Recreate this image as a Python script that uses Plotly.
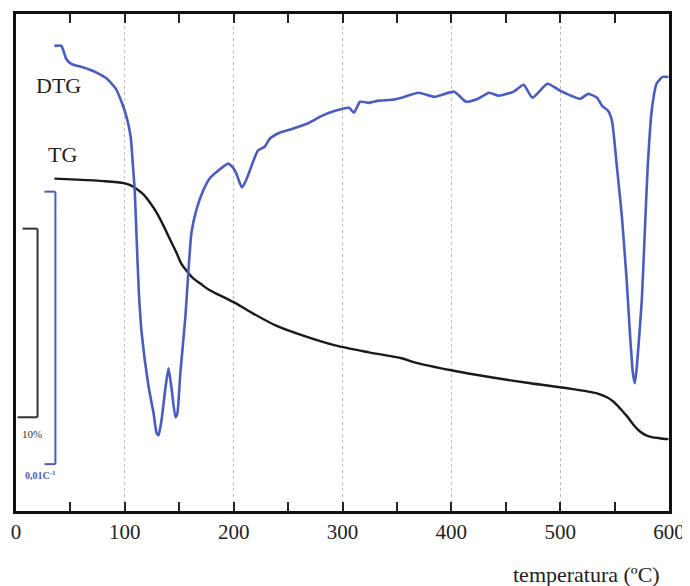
import plotly.graph_objects as go

# DTG curve (temperature in °C, DTG in 10^-3 °C^-1, relative)
dtg_T = [35.3, 41.7, 46.2, 50.8, 56.2, 65.4, 74.5, 83.6, 91.8, 97.3, 101.8, 105.5, 107.3,
         109.1, 110.9, 112.8, 115.5, 121.9, 126.4, 129.2, 131.0, 133.7, 137.4, 140.1, 142.8,
         146.5, 148.3, 151.0, 155.6, 158.3, 161.1, 165.6, 172.0, 178.4, 185.7, 194.8, 199.4,
         202.1, 207.6, 211.2, 214.8, 222.1, 228.5, 233.1, 242.2, 254.1, 269.5, 281.4, 293.3,
         306.0, 310.6, 316.1, 324.3, 333.4, 345.2, 354.3, 369.8, 384.4, 402.6, 413.6, 424.5,
         434.5, 443.6, 457.3, 466.4, 474.6, 488.3, 500.2, 518.4, 525.7, 533.9, 538.5, 544.0,
         547.6, 552.2, 556.8, 561.3, 564.1, 566.8, 568.6, 570.4, 575.0, 577.7, 580.4, 584.1,
         588.6, 594.1, 599.5]
dtg_val = [0.0, 0.0, -0.48, -0.66, -0.73, -0.84, -0.99, -1.21, -1.58, -2.09, -2.64, -3.37, -4.32,
           -5.31, -7.14, -8.97, -10.55, -12.53, -13.48, -14.21, -14.29, -13.74, -12.53, -11.83, -12.53,
           -13.63, -13.48, -12.01, -9.96, -8.35, -6.89, -6.04, -5.31, -4.84, -4.58, -4.32, -4.47,
           -4.65, -5.20, -4.95, -4.58, -3.85, -3.70, -3.41, -3.19, -3.04, -2.82, -2.56, -2.38,
           -2.27, -2.45, -2.05, -2.09, -2.01, -1.98, -1.90, -1.72, -1.87, -1.68, -2.05, -1.94,
           -1.72, -1.83, -1.68, -1.43, -1.90, -1.39, -1.65, -1.94, -1.76, -1.90, -2.20, -2.38,
           -2.75, -4.47, -6.30, -8.72, -10.55, -12.01, -12.38, -11.79, -9.34, -6.89, -4.47, -2.38,
           -1.39, -1.14, -1.14]

# TG curve (temperature in °C, mass in %)
tg_T = [35.3, 56.2, 80.9, 99.1, 105.5, 110.9, 117.3, 123.7, 129.2, 135.5, 142.0, 147.4,
        151.9, 156.5, 162.9, 169.3, 178.4, 187.5, 202.1, 217.6, 238.5, 263.2, 293.3, 324.3,
        354.3, 366.2, 399.9, 436.4, 472.8, 506.6, 533.9, 543.0, 548.5, 554.9, 561.3, 567.7,
        573.1, 578.6, 584.1, 591.4, 599.5]
tg_val = [100.0, 99.95, 99.87, 99.76, 99.64, 99.45, 99.15, 98.68, 98.20, 97.51, 96.72, 96.08,
          95.50, 95.13, 94.71, 94.44, 94.07, 93.81, 93.39, 92.86, 92.22, 91.69, 91.16, 90.79,
          90.48, 90.26, 89.84, 89.47, 89.15, 88.89, 88.62, 88.41, 88.20, 87.83, 87.41, 86.93,
          86.61, 86.40, 86.30, 86.24, 86.19]

x_ticks = [0, 100, 200, 300, 400, 500, 600]
x_tick_labels = ["0", "100", "200", "300", "400", "500", "600"]

# scale bars: TG 10 %, DTG 0.01 °C^-1 (=10 units)
tg_bar = [97.35, 87.35]
dtg_bar = [-5.35, -15.35]

BLUE = "#4a5cc4"
BLACK = "#1a1a1a"
SERIF = "Liberation Serif, Times New Roman, serif"

fig = go.Figure()
fig.add_trace(go.Scatter(x=dtg_T, y=dtg_val, mode="lines", yaxis="y2",
                         line=dict(color=BLUE, width=2.6, shape="spline", smoothing=0.5),
                         showlegend=False))
fig.add_trace(go.Scatter(x=tg_T, y=tg_val, mode="lines", yaxis="y",
                         line=dict(color=BLACK, width=2.4, shape="spline", smoothing=0.8),
                         showlegend=False))

# TG scale bar (black bracket)
fig.add_shape(type="line", xref="x", yref="y", x0=19.8, x1=19.8, y0=tg_bar[0], y1=tg_bar[1],
              line=dict(color="#333333", width=2))
fig.add_shape(type="line", xref="x", yref="y", x0=6.0, x1=19.8, y0=tg_bar[0], y1=tg_bar[0],
              line=dict(color="#333333", width=2))
fig.add_shape(type="line", xref="x", yref="y", x0=1.5, x1=19.8, y0=tg_bar[1], y1=tg_bar[1],
              line=dict(color="#333333", width=2))
# DTG scale bar (blue bracket)
fig.add_shape(type="line", xref="x", yref="y2", x0=36.2, x1=36.2, y0=dtg_bar[0], y1=dtg_bar[1],
              line=dict(color=BLUE, width=2))
fig.add_shape(type="line", xref="x", yref="y2", x0=26.2, x1=36.2, y0=dtg_bar[0], y1=dtg_bar[0],
              line=dict(color=BLUE, width=2))
fig.add_shape(type="line", xref="x", yref="y2", x0=26.2, x1=36.2, y0=dtg_bar[1], y1=dtg_bar[1],
              line=dict(color=BLUE, width=2))

fig.add_annotation(x=14.3, y=86.45, xref="x", yref="y", text="10%", showarrow=False,
                   xanchor="center", yanchor="middle", font=dict(family=SERIF, size=11, color="#333333"))
fig.add_annotation(x=22.5, y=-15.45, xref="x", yref="y2", text="<b>0,01C<sup>-1</sup></b>", showarrow=False,
                   xanchor="center", yanchor="top", font=dict(family=SERIF, size=10, color=BLUE))
fig.add_annotation(x=39, y=-1.45, xref="x", yref="y2", text="DTG", showarrow=False,
                   xanchor="center", yanchor="middle", font=dict(family=SERIF, size=22, color="#222222"))
fig.add_annotation(x=43, y=101.3, xref="x", yref="y", text="TG", showarrow=False,
                   xanchor="center", yanchor="middle", font=dict(family=SERIF, size=22, color="#222222"))
fig.add_annotation(x=0.758, y=-0.1285, xref="paper", yref="paper", text="temperatura (ºC)",
                   showarrow=False, xanchor="left", yanchor="middle",
                   font=dict(family=SERIF, size=22, color="#222222"))

fig.update_layout(
    width=690, height=586,
    margin=dict(l=3, r=29, t=5, b=83),
    paper_bgcolor="white", plot_bgcolor="white",
    showlegend=False,
    xaxis=dict(range=[0, 600], tickvals=x_ticks, ticktext=x_tick_labels,
               ticks="inside", ticklen=9, tickwidth=2, tickcolor="#222222",
               ticklabeloverflow="allow",
               minor=dict(dtick=50, ticks="inside", ticklen=6, tickwidth=2, tickcolor="#222222", showgrid=False),
               showline=True, linecolor="#111111", linewidth=2.5, mirror="allticks",
               showgrid=True, gridcolor="#bbbbbb", griddash="dot", gridwidth=1,
               tickfont=dict(family=SERIF, size=21, color="#222222"), zeroline=False),
    yaxis=dict(range=[82.38, 108.73], showticklabels=False, ticks="", showgrid=False,
               showline=True, linecolor="#111111", linewidth=2.5, mirror=True, zeroline=False),
    yaxis2=dict(range=[-17.07, 1.17], overlaying="y", side="right", showticklabels=False,
                ticks="", showgrid=False, showline=False, zeroline=False),
)

fig.write_html("out.html")
